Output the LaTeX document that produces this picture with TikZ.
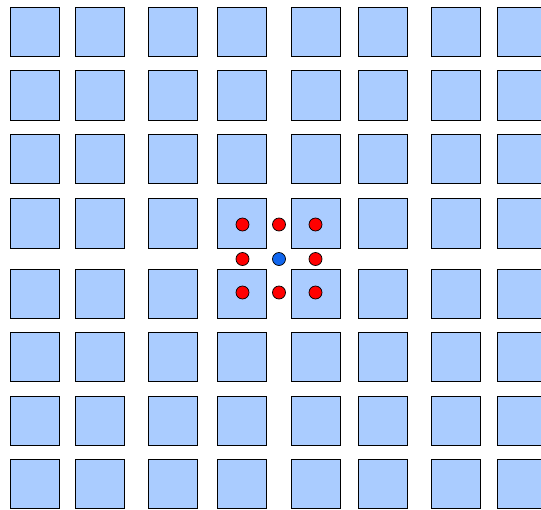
\documentclass[tikz,border=0pt]{standalone}
\usetikzlibrary{shapes.geometric}
\definecolor{cellfill}{HTML}{AACCFF}
\definecolor{dotred}{HTML}{FF0000}
\definecolor{dotblue}{HTML}{1166EE}
\tikzset{
  cell/.style={rectangle, draw=black, fill=cellfill, line width=0.8pt, minimum size=49.5pt, inner sep=0pt},
  reddot/.style={circle, draw=black, fill=dotred, line width=0.7pt, minimum size=13pt, inner sep=0pt},
  bluedot/.style={circle, draw=black, fill=dotblue, line width=0.7pt, minimum size=13pt, inner sep=0pt}
}
\begin{document}
\begin{tikzpicture}[x=1pt,y=-1pt]
\clip (0,0) rectangle (541,509);
\useasboundingbox (0,0) rectangle (541,509);
\fill[white] (0,0) rectangle (541,509);
\foreach \cx [count=\i] in {34.75,99.75,173,242,315.75,382.75,456,521.75}{
  \foreach \cy [count=\j] in {32,95.5,158.75,223.25,293.75,357,420.75,484}{
    \node[cell] (s-\i-\j) at (\cx,\cy) {};
  }
}
\node[reddot] (r1) at (242.5,224.5) {};
\node[reddot] (r2) at (279,224.5) {};
\node[reddot] (r3) at (315.5,224.5) {};
\node[reddot] (r4) at (242.5,259) {};
\node[bluedot] (b) at (279,259) {};
\node[reddot] (r5) at (315.5,259) {};
\node[reddot] (r6) at (242.5,292.5) {};
\node[reddot] (r7) at (279,292.5) {};
\node[reddot] (r8) at (315.5,292.5) {};
\end{tikzpicture}
\end{document}
